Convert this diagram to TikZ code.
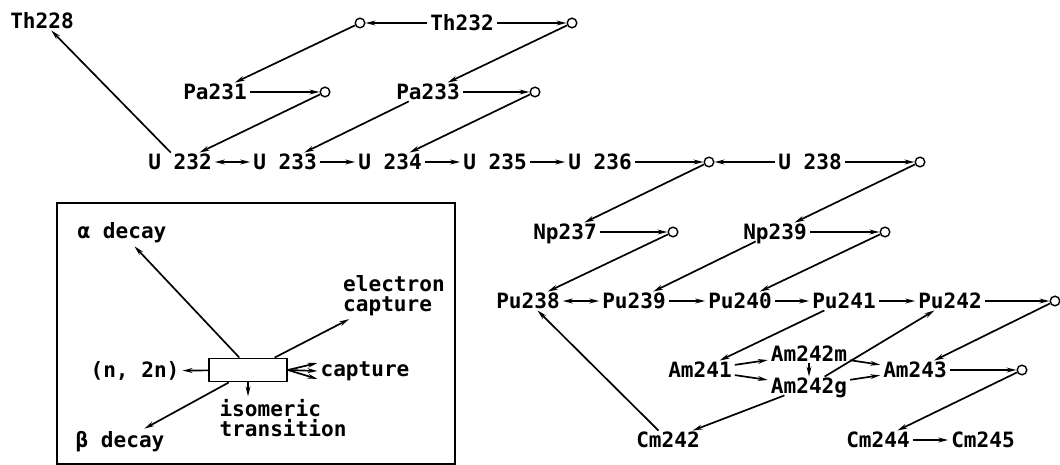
\documentclass[tikz,border=0pt]{standalone}
\usepackage{fontspec}
\setmonofont{DejaVu Sans Mono}
\usetikzlibrary{arrows.meta}

\begin{document}
\begin{tikzpicture}[x=0.25mm, y=-0.25mm, font=\ttfamily\bfseries\fontsize{15}{14}\selectfont]
    % styles
    \tikzstyle{nuclide}=[inner xsep=2pt, inner ysep=1.5pt, text height=10pt, text depth=0pt]
    \tikzstyle{dot}=[circle, draw, line width=1pt, fill=white, inner sep=0pt, minimum size=2.4mm]
    \tikzstyle{chain}=[line width=1.2pt, -{Stealth[length=7pt, width=3.4pt]}]
    \tikzstyle{both}=[line width=1.2pt, {Stealth[length=7pt, width=3.4pt]}-{Stealth[length=7pt, width=3.4pt]}]
    \tikzstyle{legend}=[inner sep=2pt, align=left]

    \useasboundingbox (0,0) rectangle (1060,465);

    % 1. Th / Pa / U chain
    \node[nuclide] (th228) at (42,21) {Th228};
    \node[dot] (c1) at (360,23) {};
    \node[nuclide] (th232) at (462,23) {Th232};
    \node[dot] (c2) at (572,23) {};

    \node[nuclide] (pa231) at (215,92) {Pa231};
    \node[dot] (c3) at (325,92) {};
    \node[nuclide] (pa233) at (428,92) {Pa233};
    \node[dot] (c4) at (535,92) {};

    \node[nuclide] (u232) at (180,162) {U 232};
    \node[nuclide] (u233) at (285,162) {U 233};
    \node[nuclide] (u234) at (390,162) {U 234};
    \node[nuclide] (u235) at (495,162) {U 235};
    \node[nuclide] (u236) at (600,162) {U 236};
    \node[dot] (c5) at (709,162) {};
    \node[nuclide] (u238) at (810,162) {U 238};
    \node[dot] (c6) at (920,162) {};

    % 2. Np / Pu / Am / Cm
    \node[nuclide] (np237) at (565,232) {Np237};
    \node[dot] (c7) at (673,232) {};
    \node[nuclide] (np239) at (775,232) {Np239};
    \node[dot] (c8) at (885,232) {};

    \node[nuclide] (pu238) at (528,301) {Pu238};
    \node[nuclide] (pu239) at (634,301) {Pu239};
    \node[nuclide] (pu240) at (740,301) {Pu240};
    \node[nuclide] (pu241) at (844,301) {Pu241};
    \node[nuclide] (pu242) at (950,301) {Pu242};
    \node[dot] (c9) at (1055,301) {};

    \node[nuclide] (am241) at (700,370) {Am241};
    \node[nuclide] (am242m) at (809,354) {Am242m};
    \node[nuclide] (am242g) at (809,386) {Am242g};
    \node[nuclide] (am243) at (915,370) {Am243};
    \node[dot] (c10) at (1022,370) {};

    \node[nuclide] (cm242) at (668,440) {Cm242};
    \node[nuclide] (cm244) at (878,440) {Cm244};
    \node[nuclide] (cm245) at (983,440) {Cm245};

    % connectors
    \draw[chain] (u232) -- (th228);
    \draw[chain] (th232) -- (c1);
    \draw[chain] (th232) -- (c2);
    \draw[chain] (c1) -- (pa231);
    \draw[chain] (c2) -- (pa233);
    \draw[chain] (pa231) -- (c3);
    \draw[chain] (c3) -- (u232);
    \draw[chain] (pa233) -- (c4);
    \draw[chain] (c4) -- (u234);
    \draw[chain] (pa233) -- (u233);
    \draw[both] (u232) -- (u233);
    \draw[chain] (u233) -- (u234);
    \draw[chain] (u234) -- (u235);
    \draw[chain] (u235) -- (u236);
    \draw[chain] (u236) -- (c5);
    \draw[chain] (u238) -- (c5);
    \draw[chain] (u238) -- (c6);
    \draw[chain] (c5) -- (np237);
    \draw[chain] (c6) -- (np239);
    \draw[chain] (np237) -- (c7);
    \draw[chain] (np239) -- (c8);
    \draw[chain] (c7) -- (pu238);
    \draw[chain] (np239) -- (pu239);
    \draw[chain] (c8) -- (pu240);
    \draw[both] (pu238) -- (pu239);
    \draw[chain] (pu239) -- (pu240);
    \draw[chain] (pu240) -- (pu241);
    \draw[chain] (pu241) -- (pu242);
    \draw[chain] (pu242) -- (c9);
    \draw[chain] (pu241) -- (am241);
    \draw[chain] (am241) -- (am242m);
    \draw[chain] (am241) -- (am242g);
    \draw[chain] (am242m) -- (am242g);
    \draw[chain] (am242m) -- (am243);
    \draw[chain] (am242g) -- (am243);
    \draw[chain] (am242g) -- (pu242);
    \draw[chain] (c9) -- (am243);
    \draw[chain] (am243) -- (c10);
    \draw[chain] (c10) -- (cm244);
    \draw[chain] (cm244) -- (cm245);
    \draw[chain] (am242g) -- (cm242);
    \draw[chain] (cm242) -- (pu238);

    % 3. legend
    \draw[line width=0.8pt] (57,203) rectangle (455,464);
    \node[draw, line width=1.2pt, minimum width=19.5mm, minimum height=5.8mm] (nuc) at (248,370) {};
    \node[legend] (alpha) at (122,233) {α decay};
    \node[legend] (beta) at (120,442) {β decay};
    \node[legend] (n2n) at (135,371) {(n, 2n)};
    \node[legend] (cap) at (365,371) {capture};
    \node[legend] (ec) at (394,296) {electron\\capture};
    \node[legend] (isomer) at (283,418) {isomeric\\transition};

    \draw[chain] (nuc.125) -- (alpha);
    \draw[chain] (nuc.213) -- (beta);
    \draw[chain] (nuc.25) -- (ec);
    \draw[chain] (nuc) -- (n2n);
    \draw[chain] (nuc.south) -- (nuc.south |- isomer.north);
    \draw[chain] (nuc.east) -- ([yshift=-2mm]cap.west);
    \draw[chain] (nuc.east) -- (cap.west);
    \draw[chain] (nuc.east) -- ([yshift=2mm]cap.west);
\end{tikzpicture}
\end{document}
